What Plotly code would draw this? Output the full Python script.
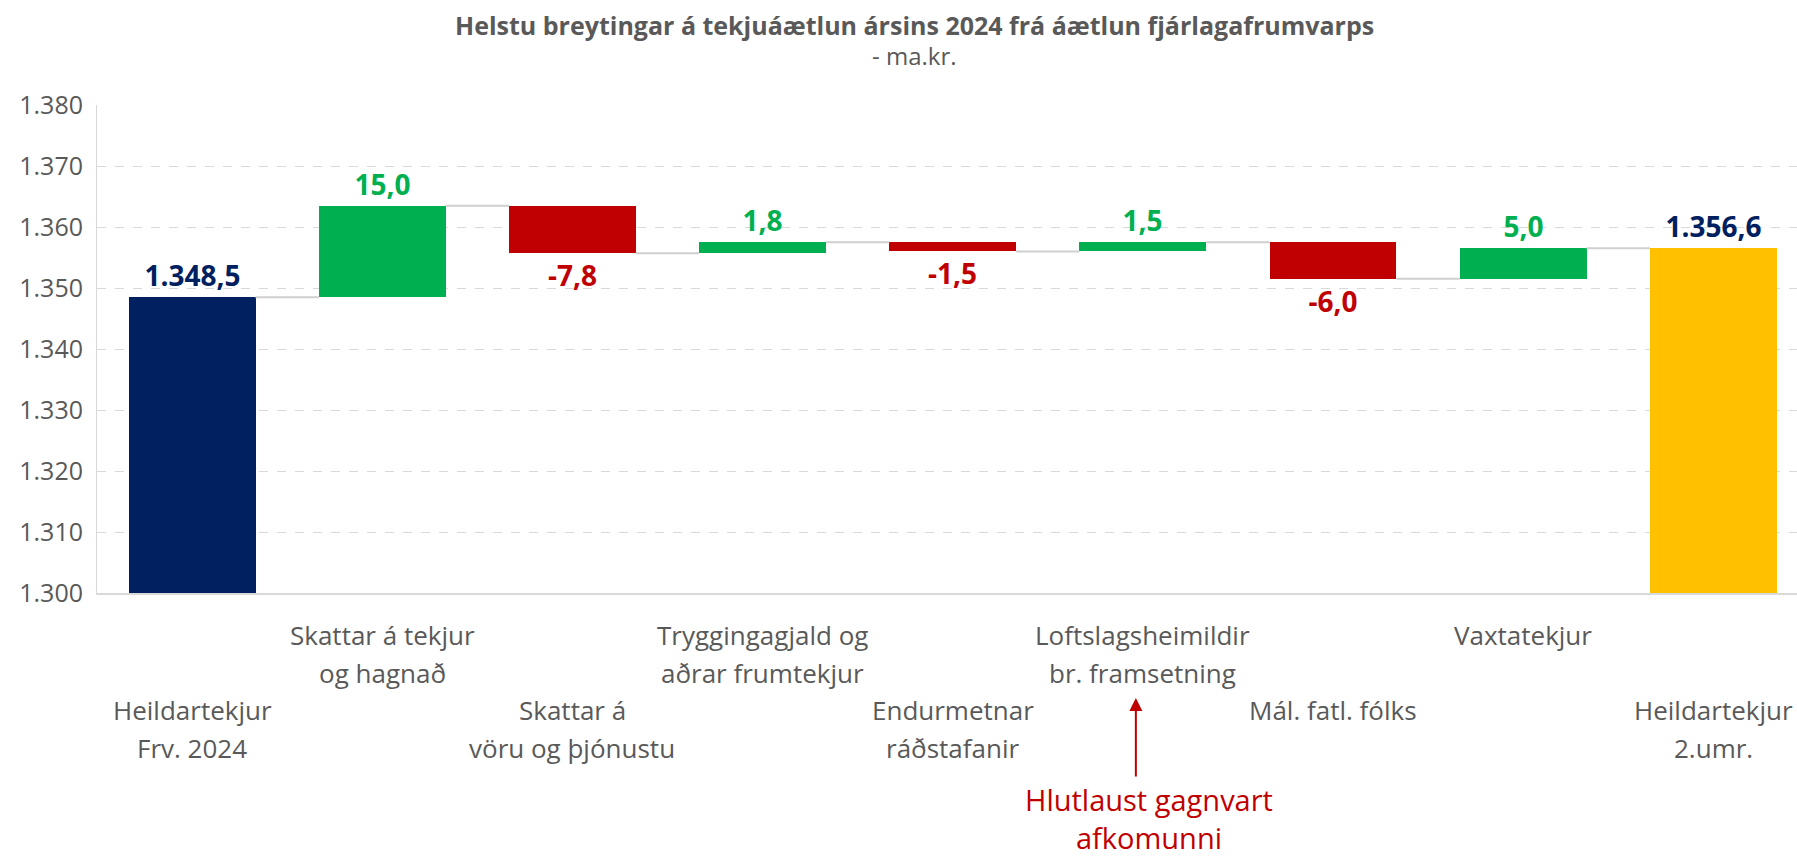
import plotly.graph_objects as go

# ---------------- data ----------------
labels = [
    "Heildartekjur<br>Frv. 2024",
    "Skattar á tekjur<br>og hagnað",
    "Skattar á<br>vöru og þjónustu",
    "Tryggingagjald og<br>aðrar frumtekjur",
    "Endurmetnar<br>ráðstafanir",
    "Loftslagsheimildir<br>br. framsetning",
    "Mál. fatl. fólks",
    "Vaxtatekjur",
    "Heildartekjur<br>2.umr.",
]
values = [1348.5, 15.0, -7.8, 1.8, -1.5, 1.5, -6.0, 5.0, 1356.6]
measures = ["total", "relative", "relative", "relative", "relative",
            "relative", "relative", "relative", "total"]
y_ticks = [1300, 1310, 1320, 1330, 1340, 1350, 1360, 1370, 1380]
title_text = "Helstu breytingar á tekjuáætlun ársins 2024 frá áætlun fjárlagafrumvarps"
subtitle_text = "- ma.kr."
note_text = "Hlutlaust gagnvart<br>afkomunni"
note_category = 5

# ---------------- styles ----------------
NAVY = "#002060"
GREEN = "#00B050"
RED = "#C00000"
YELLOW = "#FFC000"
GRAY_TXT = "#595959"
GRID = "#d9d9d9"
FONT = "Open Sans"
BAR_W = 0.667

W, H = 1797, 859
M_L, M_R, M_T, M_B = 97, 0, 105, 266
PLOT_H = H - M_T - M_B
PLOT_W = W - M_L - M_R


def fmt(v):
    s = f"{abs(v):,.1f}".replace(",", "X").replace(".", ",").replace("X", ".")
    return ("-" if v < 0 else "") + s


# build waterfall geometry from data
bases, heights, levels = [], [], []
running = 0.0
for v, m in zip(values, measures):
    if m == "total":
        bases.append(0.0)
        heights.append(v)
        running = v
    else:
        bases.append(running)
        heights.append(v)
        running += v
    levels.append(running)

xs = list(range(len(values)))
total_idx = [i for i, m in enumerate(measures) if m == "total"]
total_colors = [NAVY, YELLOW]
bar_colors, text_colors = [], []
for i, (v, m) in enumerate(zip(values, measures)):
    if m == "total":
        bar_colors.append(total_colors[total_idx.index(i) % 2])
        text_colors.append(NAVY)
    elif v >= 0:
        bar_colors.append(GREEN)
        text_colors.append(GREEN)
    else:
        bar_colors.append(RED)
        text_colors.append(RED)

fig = go.Figure()

# connectors
cx, cy = [], []
for i in range(len(values) - 1):
    cx += [xs[i] + BAR_W / 2, xs[i + 1] - BAR_W / 2, None]
    cy += [levels[i], levels[i], None]
fig.add_trace(go.Scatter(x=cx, y=cy, mode="lines",
                         line=dict(color="#cfcfcf", width=2),
                         hoverinfo="skip", showlegend=False))

fig.add_trace(go.Bar(
    x=xs, y=heights, base=bases, width=BAR_W,
    marker=dict(color=bar_colors, line=dict(width=0)),
    text=[fmt(v) for v in values],
    texttemplate="<b>%{text}</b>",
    textposition="outside",
    textfont=dict(family=FONT, size=28, color=text_colors),
    constraintext="none",
    cliponaxis=False,
    showlegend=False,
))

annotations = []
# title + subtitle
TX = (914 - M_L) / PLOT_W
annotations.append(dict(text=f"<b>{title_text}</b>", xref="paper", yref="paper",
                        x=TX, y=1, yshift=80,
                        xanchor="center", yanchor="middle", showarrow=False,
                        font=dict(family=FONT, size=25, color=GRAY_TXT)))
annotations.append(dict(text=subtitle_text, xref="paper", yref="paper",
                        x=TX, y=1, yshift=50,
                        xanchor="center", yanchor="middle", showarrow=False,
                        font=dict(family=FONT, size=24, color=GRAY_TXT)))

# staggered category labels
LINE = 37.6
FIRST = 635 - (H - M_B)
for i, lab in enumerate(labels):
    row = 2 if i % 2 == 0 else 0
    for j, line in enumerate(lab.split("<br>")):
        annotations.append(dict(text=line, x=xs[i], xref="x", yref="paper", y=0,
                                yshift=-(FIRST + LINE * (row + j)),
                                xanchor="center", yanchor="middle", showarrow=False,
                                font=dict(family=FONT, size=26, color=GRAY_TXT)))

# red note with arrow
annotations.append(dict(text="", x=xs[note_category], xref="x", xshift=-7,
                        yref="paper", y=-(698 - (H - M_B)) / PLOT_H,
                        showarrow=True, ax=0, ay=80, axref="pixel", ayref="pixel",
                        arrowhead=2, arrowsize=1.3, arrowwidth=2, arrowcolor=RED,
                        standoff=0))
annotations.append(dict(text=note_text, x=xs[note_category], xref="x", xshift=6,
                        yref="paper", y=-(818 - (H - M_B)) / PLOT_H,
                        xanchor="center", yanchor="middle", showarrow=False,
                        font=dict(family=FONT, size=29, color=RED)))

fig.update_layout(
    width=W, height=H,
    margin=dict(l=M_L, r=M_R, t=M_T, b=M_B, pad=0),
    paper_bgcolor="white", plot_bgcolor="white",
    separators=",.",
    bargap=0,
    annotations=annotations,
    font=dict(family=FONT, color=GRAY_TXT),
)
fig.update_xaxes(range=[-0.5, 8.44], showticklabels=False, showgrid=False,
                 zeroline=False, showline=True, linecolor=GRID, linewidth=2,
                 ticks="", fixedrange=True)
fig.update_yaxes(range=[1300, 1380], tickvals=y_ticks, tickformat=",.0f",
                 showgrid=True, gridcolor=GRID, griddash="dash", gridwidth=1,
                 zeroline=False, showline=True, linecolor=GRID, linewidth=1,
                 ticks="", ticklabelstandoff=8,
                 tickfont=dict(family=FONT, size=25, color=GRAY_TXT))

fig.write_html("out.html", config={"displayModeBar": False},
               post_script="document.body.style.margin='0';")
